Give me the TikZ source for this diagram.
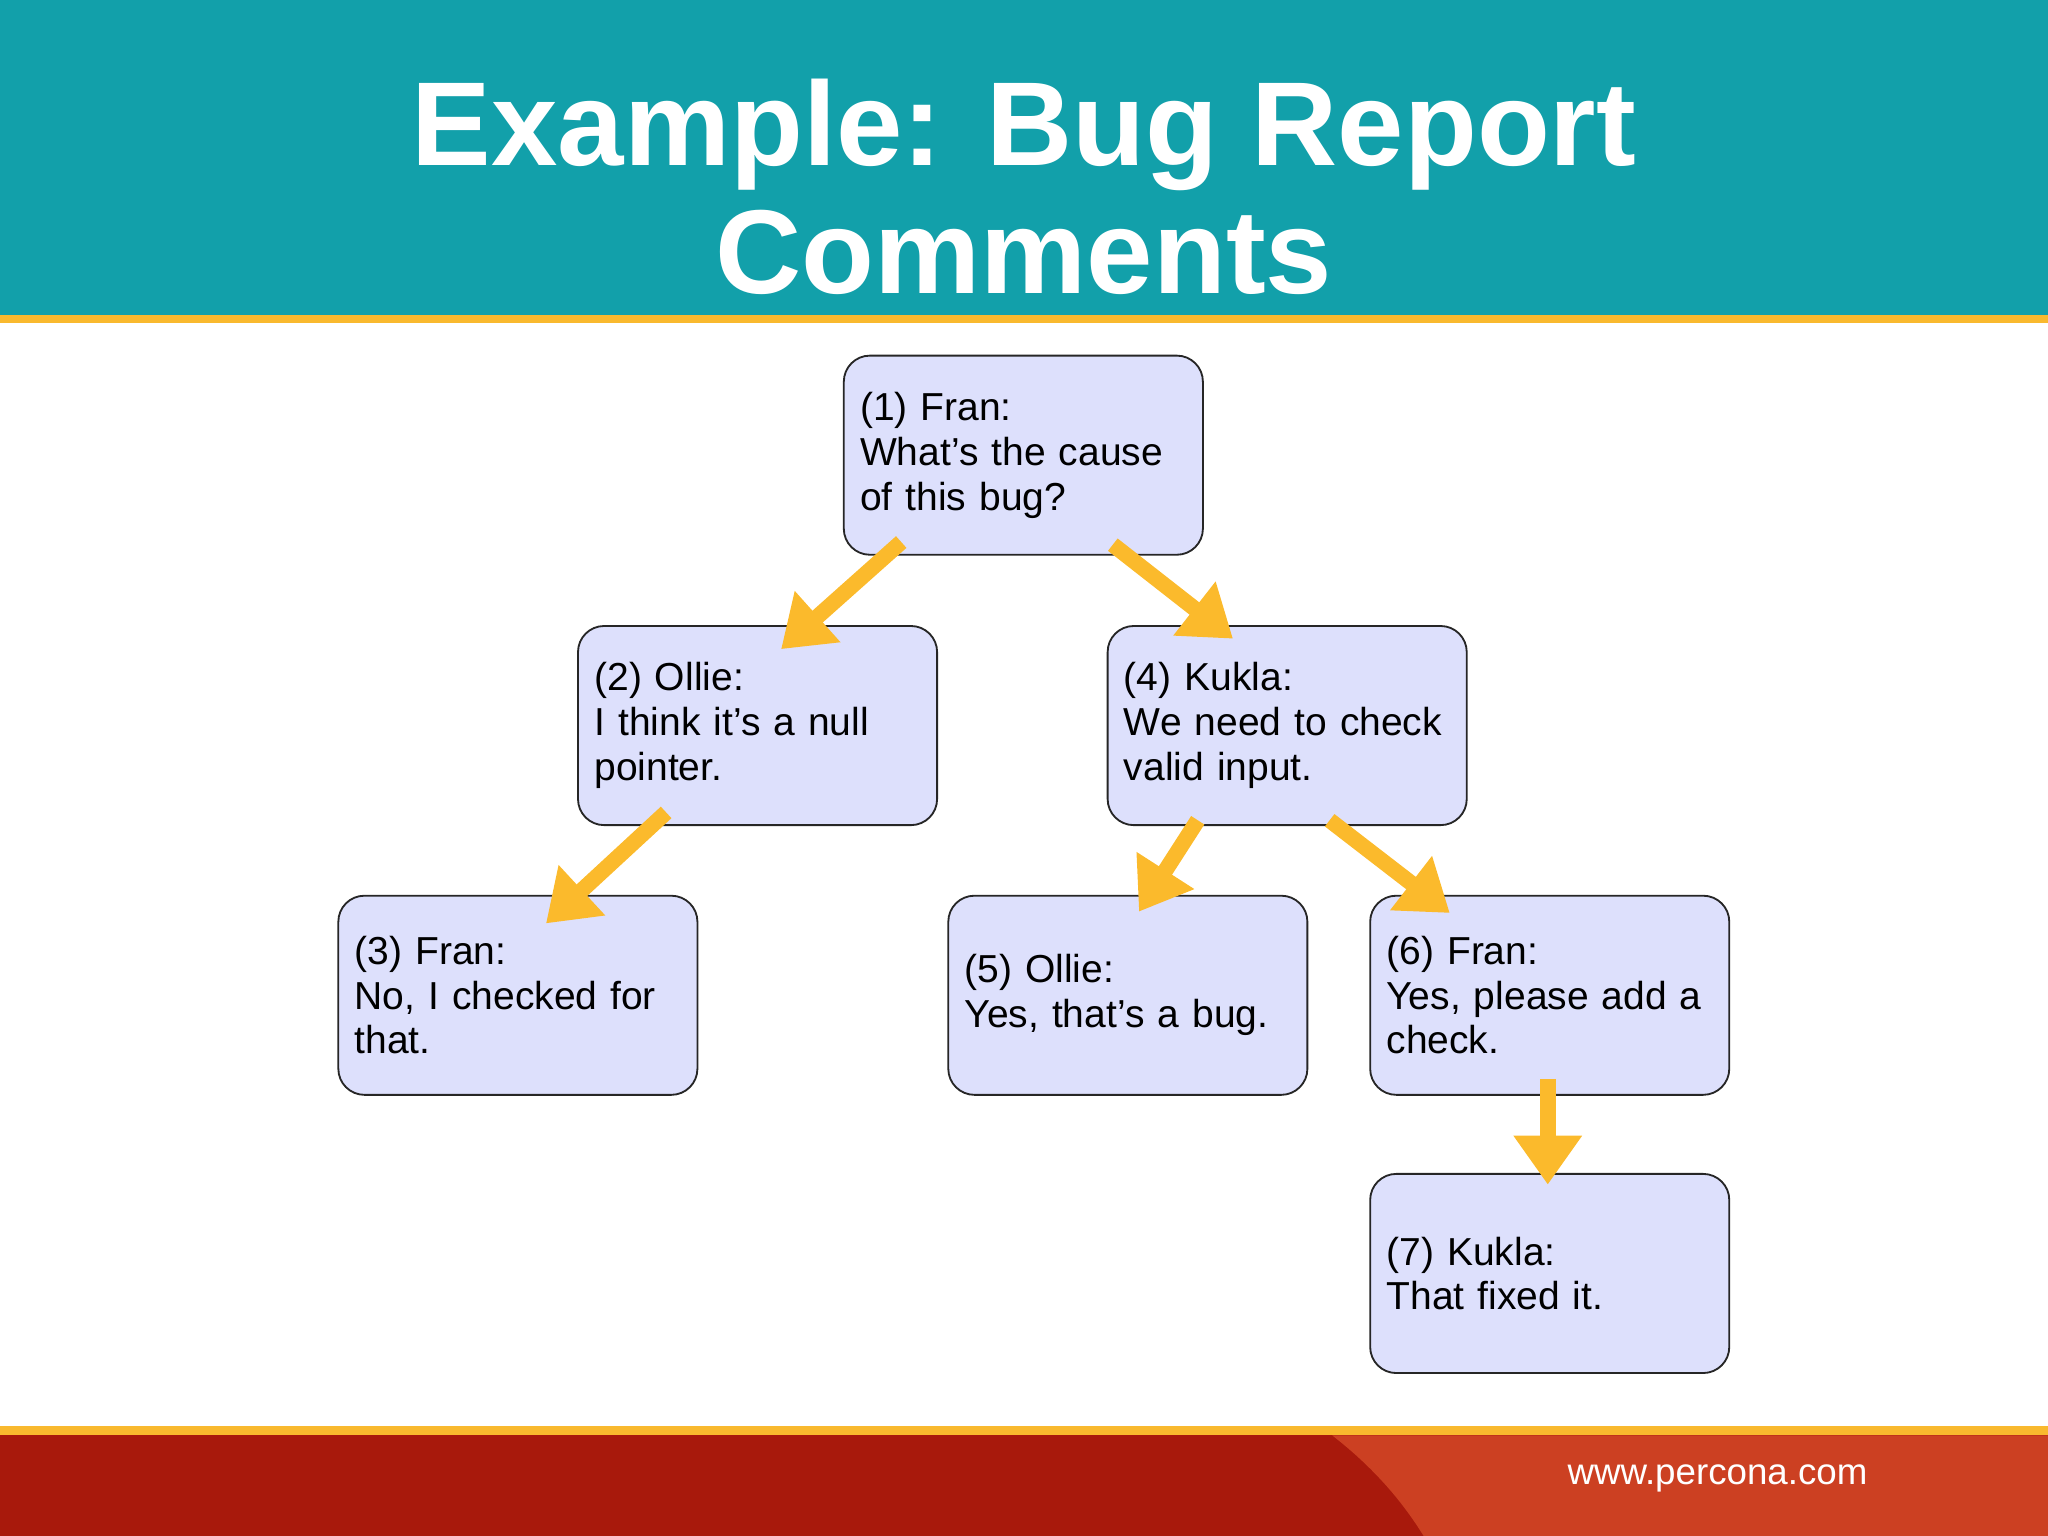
\documentclass[tikz,border=0pt]{standalone}
\usepackage{fontspec}
\setmainfont{Liberation Sans}
\usetikzlibrary{arrows.meta}
\definecolor{teal}{HTML}{12A0AA}
\definecolor{gold}{HTML}{F9B92E}
\definecolor{boxfill}{HTML}{DDE0FC}
\definecolor{darkred}{HTML}{A8190C}
\definecolor{lightred}{HTML}{CC4022}
\definecolor{arr}{HTML}{FBBA2C}
\begin{document}
\begin{tikzpicture}[x=0.02cm,y=-0.02cm,
  cbox/.style={draw=black!85,line width=0.8pt,fill=boxfill,rounded corners=0.4cm,minimum width=5.5cm,minimum height=3.05cm,text width=5.0cm,align=left,font=\fontsize{17}{19.5}\selectfont,inner sep=0pt},
  yarrow/.style={draw=arr,line width=0.24cm,-{Triangle[length=0.75cm,width=1.0cm]}}]
\useasboundingbox (0,0) rectangle (1568,1176);
\fill[teal] (0,0) rectangle (1568,241);
\fill[gold] (0,241) rectangle (1568,247);
\node[white,font=\bfseries\fontsize{52}{56}\selectfont,align=center] (title) at (784,143) {Example: Bug Report\\Comments};
\fill[gold] (0,1092) rectangle (1568,1099);
\fill[darkred] (0,1099) rectangle (1568,1176);
\fill[lightred] (1020,1099) .. controls (1060,1130) and (1080,1160) .. (1090,1176) -- (1568,1176) -- (1568,1099) -- cycle;
\node[white,anchor=east,font=\fontsize{16}{18}\selectfont] (url) at (1436,1132) {www.percona.com};
\node[cbox] (b1) at (783.5,348.5) {(1) Fran:\\What’s the cause\\of this bug?};
\node[cbox] (b2) at (580,555.5) {(2) Ollie:\\I think it’s a null\\pointer.};
\node[cbox] (b4) at (985.5,555.5) {(4) Kukla:\\We need to check\\valid input.};
\node[cbox] (b3) at (396.5,762) {(3) Fran:\\No, I checked for\\that.};
\node[cbox] (b5) at (863.5,762) {(5) Ollie:\\Yes, that’s a bug.};
\node[cbox] (b6) at (1186.5,762) {(6) Fran:\\Yes, please add a\\check.};
\node[cbox] (b7) at (1186.5,975) {(7) Kukla:\\That fixed it.};
\coordinate (a1s) at (690,415); \coordinate (a1e) at (598,497);
\coordinate (a2s) at (852,417); \coordinate (a2e) at (944,489);
\coordinate (a3s) at (510,622); \coordinate (a3e) at (418,707);
\coordinate (a4s) at (917,628); \coordinate (a4e) at (872,698);
\coordinate (a5s) at (1018,628); \coordinate (a5e) at (1110,699);
\coordinate (a6s) at (1185,826); \coordinate (a6e) at (1185,907);
\draw[yarrow] (a1s) -- (a1e);
\draw[yarrow] (a2s) -- (a2e);
\draw[yarrow] (a3s) -- (a3e);
\draw[yarrow] (a4s) -- (a4e);
\draw[yarrow] (a5s) -- (a5e);
\draw[yarrow] (a6s) -- (a6e);
\end{tikzpicture}
\end{document}
